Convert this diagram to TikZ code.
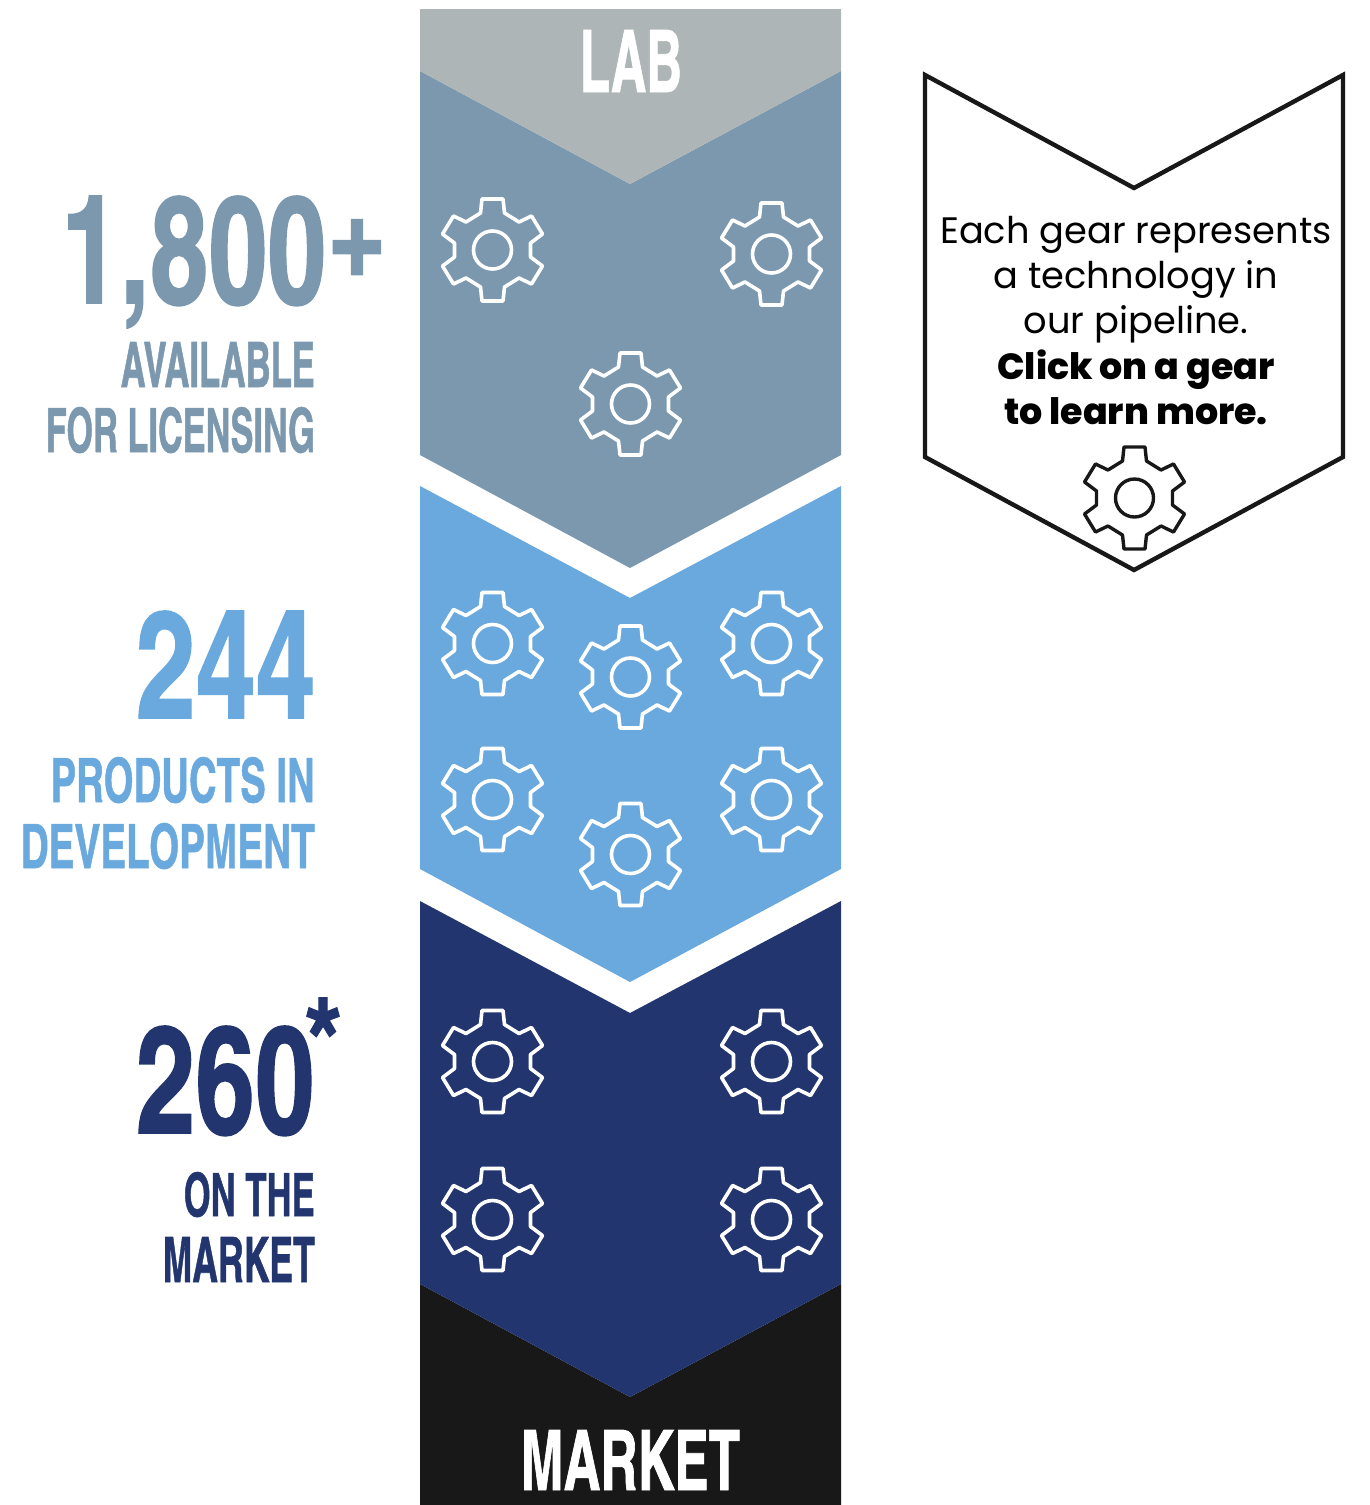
\documentclass[tikz,border=0pt]{standalone}
\usepackage{graphicx}
\usepackage{fontspec}
\setmainfont{Poppins}
\newfontfamily\condfont[BoldFeatures={FakeBold=1}]{TeX Gyre Heros Cn}
\newfontfamily\heavyfont{Poppins ExtraBold}
\definecolor{labgray}{HTML}{AEB5B6}
\definecolor{steel}{HTML}{7B98AE}
\definecolor{skyb}{HTML}{6AA9DE}
\definecolor{navyb}{HTML}{22356E}
\definecolor{nearblack}{HTML}{181818}
\newcommand{\fit}[3]{\resizebox{#1pt}{#2pt}{\condfont\bfseries #3}}
\tikzset{
  gear/.pic={
    \path[pic actions,line join=round,fill=none]
      (-10.5,-51)--(10.5,-51)--(12,-37)--(26.5,-28)--(39,-34)--(50,-16)--(38,-7)--(38,7)--(50,16)--(39,34)--(26.5,28)--(12,37)--(10.5,51)--(-10.5,51)--(-12,37)--(-26.5,28)--(-39,34)--(-50,16)--(-38,7)--(-38,-7)--(-50,-16)--(-39,-34)--(-26.5,-28)--(-12,-37)--cycle;
    \path[pic actions,fill=none] (0,0) circle[radius=19];
  },
  wgear/.style={draw=white,line width=3.6pt},
  kgear/.style={draw=nearblack,line width=3.4pt},
  stat/.style={inner sep=0pt,anchor=base east},
}
\begin{document}
\begin{tikzpicture}[x=1pt,y=-1pt]
\useasboundingbox (0,0) rectangle (1369,1505);
\fill[nearblack] (420,1284)--(630,1397)--(841,1284)--(841,1505)--(420,1505)--cycle;
\fill[navyb] (420,901)--(630,1013)--(841,901)--(841,1284)--(630,1397)--(420,1284)--cycle;
\fill[skyb] (420,486)--(630,598)--(841,486)--(841,869)--(630,982)--(420,869)--cycle;
\fill[steel] (420,71)--(630,184)--(841,71)--(841,455)--(630,568)--(420,455)--cycle;
\fill[labgray] (420,9)--(841,9)--(841,71)--(630,184)--(420,71)--cycle;
\node[inner sep=0pt,anchor=base,text=white] (lab) at (631,92) {\fit{102}{62}{LAB}};
\node[inner sep=0pt,anchor=base,text=white] (market) at (630.5,1490) {\fit{219}{60}{MARKET}};
\foreach \x/\y in {492.5/250,771.5/254,630.5/404,492.5/643.5,771.5/643.5,630.5/677,492.5/799.5,771.5/799.5,630.5/854.5,492.5/1061.5,771.5/1061.5,492.5/1219.5,771.5/1219.5}
  \pic[wgear] at (\x,\y) {gear};
\node[stat,text=steel] (n1800) at (388,303) {\fit{326}{107}{1,800\raisebox{0.12em}{+}}};
\node[stat,text=steel] (avail) at (315,387) {\fit{194}{45}{AVAILABLE}};
\node[stat,text=steel] (forlic) at (315,452) {\fit{269}{45}{FOR LICENSING}};
\node[stat,text=skyb] (n244) at (315.5,718) {\fit{179}{107}{244}};
\node[stat,text=skyb] (prod) at (315,802) {\fit{264}{45}{PRODUCTS IN}};
\node[stat,text=skyb] (devel) at (315,868) {\fit{294}{45}{DEVELOPMENT}};
\node[stat,text=navyb] (n260) at (314.5,1133) {\fit{178}{107}{260}};
\node[inner sep=0pt,text=navyb,font=\condfont\bfseries\fontsize{118}{118}\selectfont] (star) at (323,1040) {*};
\node[stat,text=navyb] (onthe) at (315,1216) {\fit{131}{44}{ON THE}};
\node[stat,text=navyb] (mkt2) at (315,1282) {\fit{152}{45}{MARKET}};
\draw[nearblack,line width=4.4pt,miter limit=10] (925,75)--(1134,188)--(1343,75)--(1343,457)--(1134,570)--(925,457)--cycle;
\pic[kgear] at (1134.5,498) {gear};
\node[inner sep=0pt,anchor=base,align=center,text=black,font=\fontsize{36.8}{45.4}\selectfont] (legend) at (1136,243)
  {\smash{\parbox[t]{420pt}{\centering\baselineskip=45.4pt Each gear represents\\ a technology in\\ our pipeline.\\ {\heavyfont\fontsize{36.4}{45.4}\selectfont Click on a gear\\ to learn more.}}}};
\end{tikzpicture}
\end{document}
